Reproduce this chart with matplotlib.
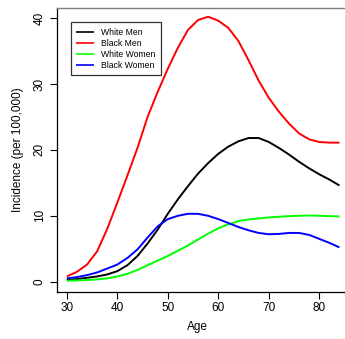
import matplotlib
matplotlib.use("Agg")
import matplotlib.pyplot as plt

plt.rcParams['font.family'] = ['Liberation Sans', 'DejaVu Sans']

age = [30, 32, 34, 36, 38, 40, 42, 44, 46, 48, 50, 52, 54, 56,
       58, 60, 62, 64, 66, 68, 70, 72, 74, 76, 78, 80, 82, 84]

white_men = [0.3, 0.4, 0.6, 0.8, 1.1, 1.6, 2.5, 3.9, 5.8, 7.9, 10.3, 12.5, 14.5, 16.4,
             18.0, 19.4, 20.5, 21.3, 21.8, 21.8, 21.2, 20.3, 19.3, 18.2, 17.2, 16.3, 15.5, 14.6]
black_men = [0.8, 1.5, 2.6, 4.6, 8.0, 12.0, 16.1, 20.3, 25.0, 28.8, 32.3, 35.5, 38.2, 39.7,
             40.2, 39.6, 38.5, 36.5, 33.6, 30.5, 27.9, 25.8, 24.0, 22.5, 21.6, 21.2, 21.1, 21.1]
white_women = [0.15, 0.2, 0.25, 0.35, 0.5, 0.8, 1.2, 1.8, 2.5, 3.2, 3.9, 4.7, 5.5, 6.4,
               7.3, 8.1, 8.7, 9.2, 9.45, 9.6, 9.75, 9.85, 9.95, 10.0, 10.05, 10.0, 9.95, 9.9]
black_women = [0.5, 0.7, 1.0, 1.4, 2.0, 2.6, 3.6, 4.9, 6.7, 8.4, 9.5, 10.0, 10.3, 10.3,
               10.0, 9.5, 8.9, 8.3, 7.8, 7.4, 7.2, 7.25, 7.4, 7.4, 7.1, 6.5, 5.9, 5.2]

series = [("White Men", white_men, "black"),
          ("Black Men", black_men, "red"),
          ("White Women", white_women, "#00ff00"),
          ("Black Women", black_women, "blue")]

x_ticks = [30, 40, 50, 60, 70, 80]
y_ticks = [0, 10, 20, 30, 40]

W, H = 345, 339
fig = plt.figure(figsize=(W / 100, H / 100), dpi=100)
left, right, top, bottom = 56.7, 345, 7.5, 292
ax = fig.add_axes([left / W, (H - bottom) / H, (right - left) / W, (bottom - top) / H])

for name, vals, col in series:
    ax.plot(age, vals, color=col, lw=1.4, label=name, solid_capstyle='butt')

ax.set_xlim(28.0, 85.1)
ax.set_ylim(-1.56, 41.6)
ax.set_xticks(x_ticks)
ax.set_yticks(y_ticks)
ax.tick_params(axis='both', direction='out', length=5, width=0.8, labelsize=8.5, color='black')
ax.tick_params(axis='x', pad=2)
ax.tick_params(axis='y', pad=3)
for lab in ax.get_yticklabels():
    lab.set_rotation(90)
    lab.set_va('center')
    lab.set_ha('right')

ax.spines['right'].set_visible(False)
ax.spines['top'].set_color('#7f7f7f')
ax.spines['top'].set_linewidth(1.0)
ax.spines['left'].set_linewidth(0.9)
ax.spines['bottom'].set_linewidth(0.9)

fig.text(197 / W, 1 - 326.7 / H, "Age", ha='center', va='center', fontsize=8.5)
fig.text(18 / W, 1 - 150 / H, "Incidence (per 100,000)", ha='center', va='center',
         rotation=90, fontsize=8.5)

leg = ax.legend(loc='upper left', bbox_to_anchor=(70.7 / W, 1 - 22.3 / H),
                bbox_transform=fig.transFigure, fontsize=6.2, frameon=True,
                fancybox=False, handlelength=2.1, handletextpad=0.8,
                labelspacing=0.24, borderpad=0.62, borderaxespad=0)
leg.get_frame().set_edgecolor('black')
leg.get_frame().set_linewidth(0.9)
for line in leg.get_lines():
    line.set_linewidth(1.2)

fig.savefig("out.png", dpi=100)
